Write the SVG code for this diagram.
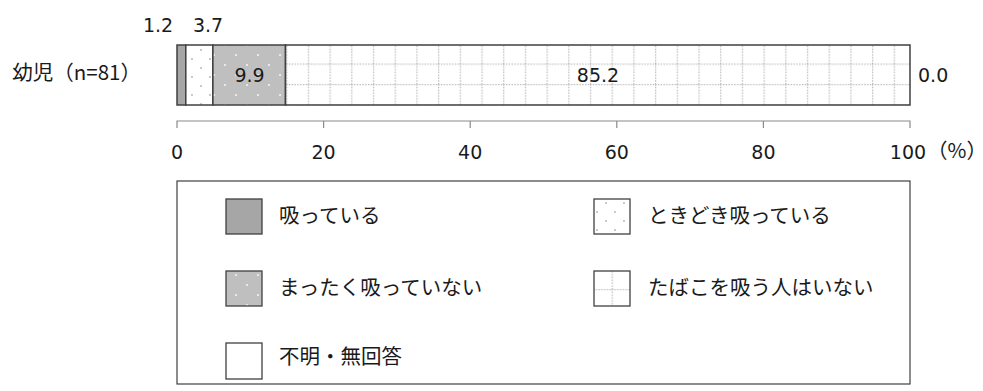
<svg xmlns="http://www.w3.org/2000/svg" width="983" height="391" viewBox="0 0 983 391">
<defs>
<pattern id="pSome" width="18" height="18" patternUnits="userSpaceOnUse" x="3" y="3">
<rect width="18" height="18" fill="#ffffff"/>
<circle cx="9" cy="2" r="0.9" fill="#b0b0b0"/>
<circle cx="0" cy="11" r="0.9" fill="#b0b0b0"/>
<circle cx="18" cy="11" r="0.9" fill="#b0b0b0"/>
</pattern>
<pattern id="pNever" width="22" height="20" patternUnits="userSpaceOnUse">
<rect width="22" height="20" fill="#bfbfbf"/>
<circle cx="5" cy="5" r="1.1" fill="#f2f2f2"/>
<circle cx="16" cy="15" r="1.1" fill="#f2f2f2"/>
</pattern>
<pattern id="pNone" width="21.7" height="20.5" patternUnits="userSpaceOnUse" x="4" y="2">
<rect width="21.7" height="20.5" fill="#ffffff"/>
<line x1="0" y1="0.5" x2="21.7" y2="0.5" stroke="#bdbdbd" stroke-width="1.5" stroke-dasharray="1.4,1.4"/>
<line x1="0.5" y1="0" x2="0.5" y2="20.5" stroke="#bdbdbd" stroke-width="1.5" stroke-dasharray="1.4,1.4"/>
</pattern>
</defs>
<style>
.seg{stroke:#404040;stroke-width:1.5}
.sw{stroke:#404040;stroke-width:1.3}
.num{font-family:"DejaVu Sans","Liberation Sans",sans-serif;font-size:19px;fill:#1a1a1a}
.jp{font-family:"Noto Sans CJK JP","Noto Sans",sans-serif;font-size:20.5px;fill:#1a1a1a}
.axis{stroke:#8a8a8a;stroke-width:1.2;fill:none}
</style>
<g id="bar">
<rect class="seg" x="177" y="45" width="8.8" height="60" fill="#a6a6a6"/>
<rect class="seg" x="185.8" y="45" width="27.1" height="60" fill="url(#pSome)"/>
<rect class="seg" x="212.9" y="45" width="72.6" height="60" fill="url(#pNever)"/>
<rect class="seg" x="285.5" y="45" width="624.5" height="60" fill="url(#pNone)"/>
<text class="jp" x="141" y="80" text-anchor="end">幼児（n=81）</text>
<text class="num" x="158" y="32" text-anchor="middle">1.2</text>
<text class="num" x="208" y="32" text-anchor="middle">3.7</text>
<text class="num" x="249.5" y="82" text-anchor="middle">9.9</text>
<text class="num" x="598" y="82" text-anchor="middle">85.2</text>
<text class="num" x="918" y="82">0.0</text>
</g>
<g id="axis">
<path class="axis" d="M177,128V121H910V128M323.6,121V128M470.2,121V128M616.8,121V128M763.4,121V128"/>
<text class="num" x="177" y="159" text-anchor="middle">0</text>
<text class="num" x="323.6" y="159" text-anchor="middle">20</text>
<text class="num" x="470.2" y="159" text-anchor="middle">40</text>
<text class="num" x="616.8" y="159" text-anchor="middle">60</text>
<text class="num" x="763.4" y="159" text-anchor="middle">80</text>
<text class="num" x="908" y="159" text-anchor="middle">100</text>
<text class="jp" x="927" y="158" font-size="18">（%）</text>
</g>
<g id="legend">
<rect x="177" y="181" width="733" height="203" fill="none" stroke="#404040" stroke-width="1.2"/>
<g id="leg1">
<rect class="sw" x="226" y="199" width="36" height="35" fill="#a6a6a6"/>
<text class="jp" x="279" y="223">吸っている</text>
</g>
<g id="leg2">
<rect class="sw" x="594" y="199" width="36" height="35" fill="url(#pSome)"/>
<text class="jp" x="648" y="223">ときどき吸っている</text>
</g>
<g id="leg3">
<rect class="sw" x="226" y="271" width="36" height="35" fill="url(#pNever)"/>
<text class="jp" x="279" y="295">まったく吸っていない</text>
</g>
<g id="leg4">
<rect class="sw" x="594" y="271" width="36" height="35" fill="url(#pNone)"/>
<text class="jp" x="648" y="295">たばこを吸う人はいない</text>
</g>
<g id="leg5">
<rect class="sw" x="226" y="343" width="36" height="36" fill="#ffffff"/>
<text class="jp" x="279" y="364">不明・無回答</text>
</g>
</g>
</svg>
